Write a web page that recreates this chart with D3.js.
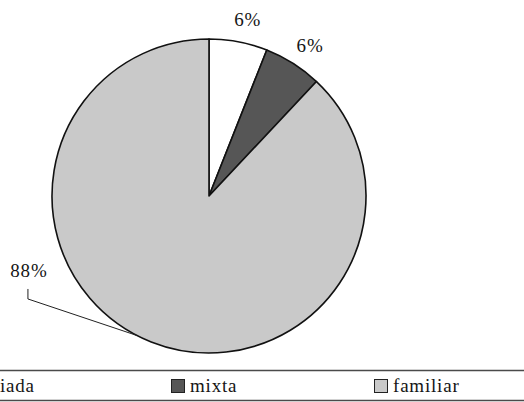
<!DOCTYPE html>
<html>
<head>
<meta charset="utf-8">
<script src="https://cdn.jsdelivr.net/npm/d3@7"></script>
<style>
  html, body { margin: 0; padding: 0; background: #fff; overflow: hidden; }
  svg { display: block; }
</style>
</head>
<body>
<script>
// Ownership type shares (percent)
const categories = ["asociada", "mixta", "familiar"];
const values = [6, 6, 88];
const labels = ["6%", "6%", "88%"];
const colors = ["#ffffff", "#565656", "#c9c9c9"];

const W = 524, H = 402;
const cx = 209, cy = 196, R = 157;
const FONT = "'Liberation Serif'";

const svg = d3.select("body").append("svg")
  .attr("width", W).attr("height", H);

const pie = d3.pie().sort(null).value(d => d)(values);
const arc = d3.arc().innerRadius(0).outerRadius(R);

const g = svg.append("g").attr("transform", `translate(${cx},${cy})`);

g.selectAll("path.slice")
  .data(pie)
  .join("path")
  .attr("class", "slice")
  .attr("d", arc)
  .attr("fill", (d, i) => colors[i])
  .attr("stroke", "#111")
  .attr("stroke-width", 1.6)
  .attr("stroke-linejoin", "round");

// polar helper: angle measured clockwise from 12 o'clock
const polar = (a, r) => [r * Math.sin(a), -r * Math.cos(a)];
const mid = d => (d.startAngle + d.endAngle) / 2;

const fontSize = 19, spacing = 0.8;

function addText(sel, x, y, str, anchor) {
  return sel.append("text")
    .attr("x", x).attr("y", y)
    .attr("text-anchor", anchor)
    .style("font-family", FONT)
    .style("font-size", fontSize + "px")
    .style("letter-spacing", spacing + "px")
    .attr("fill", "#151515")
    .text(str);
}

// small slices: labels just outside the rim
pie.slice(0, 2).forEach((d, i) => {
  const [x, y] = polar(mid(d) + 0.027, R * 1.153);
  addText(g, x, y, labels[i], "middle").attr("dy", "0.35em");
});

// large slice: label moved off to the left with a leader line
{
  const d = pie[2];
  const [lx, ly] = polar(mid(d) + 0.804, R * 1.24);
  addText(g, lx, ly, labels[2], "middle").attr("dy", "0.35em");
  const [ex, ey] = polar(mid(d) + 0.1, R);
  g.append("path")
    .attr("d", d3.line()([[lx - 1, ly + 19], [lx - 1, ly + 29], [ex, ey]]))
    .attr("fill", "none")
    .attr("stroke", "#222")
    .attr("stroke-width", 1);
}

// legend band
const legendTop = 370, legendBottom = 400;
[legendTop, legendBottom].forEach(y => {
  svg.append("line")
    .attr("x1", 0).attr("x2", W)
    .attr("y1", y + 0.5).attr("y2", y + 0.5)
    .attr("stroke", "#4a4a4a").attr("stroke-width", 1.3);
});

const legendX = [-56, 171, 374];
const legend = svg.selectAll("g.leg")
  .data(categories)
  .join("g")
  .attr("class", "leg")
  .attr("transform", (d, i) => `translate(${legendX[i]},0)`);

legend.append("rect")
  .attr("x", 0.5).attr("y", 379.5)
  .attr("width", 13).attr("height", 13)
  .attr("fill", (d, i) => colors[i])
  .attr("stroke", "#222").attr("stroke-width", 1);

legend.each(function (d) {
  addText(d3.select(this), 19, 392, d, "start");
});
</script>
</body>
</html>
